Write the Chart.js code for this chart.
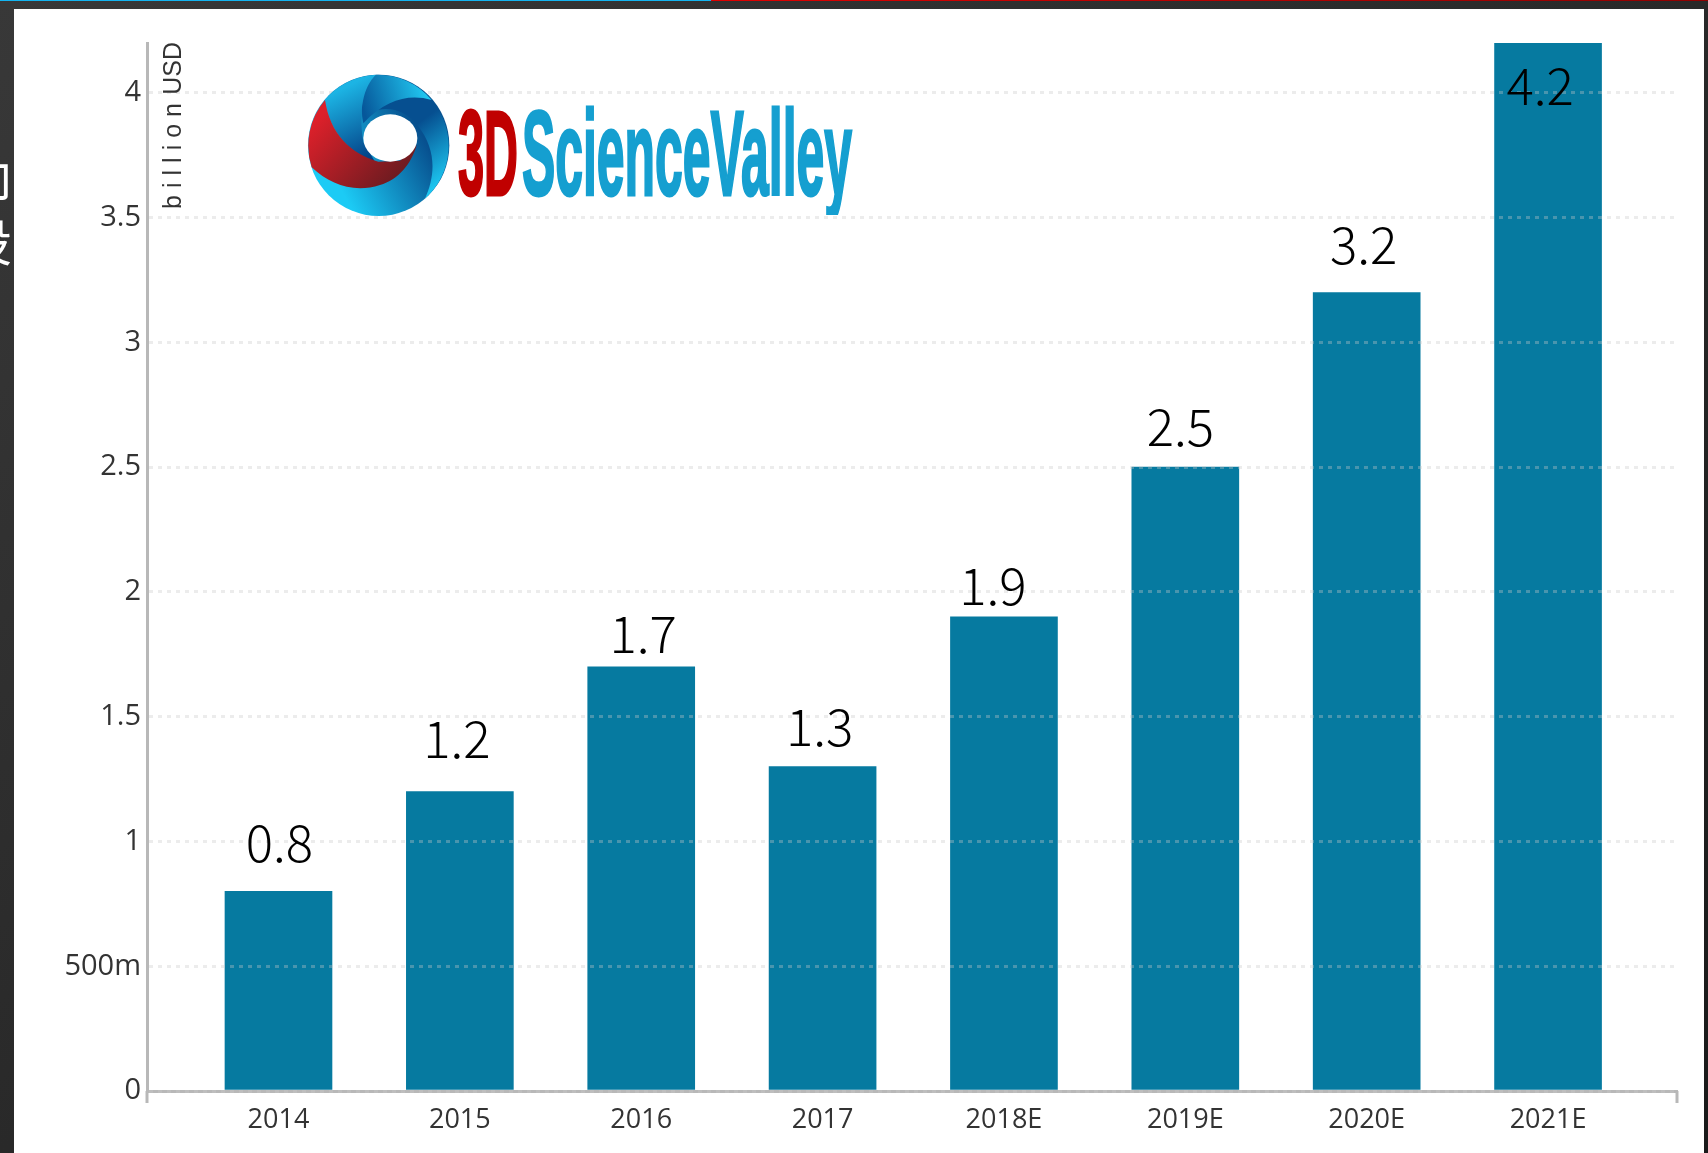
<!DOCTYPE html>
<html>
<head>
<meta charset="utf-8">
<title>3D printing market</title>
<script src="https://cdn.jsdelivr.net/npm/chart.js@4/dist/chart.umd.min.js"></script>
<style>
    html, body { margin: 0; padding: 0; }
    body {
        width: 1708px;
        height: 1153px;
        position: relative;
        overflow: hidden;
        background: linear-gradient(to bottom right, #383838, #1a1a1a);
    }
    .stripe { position: absolute; top: 0; height: 1px; }
    .side-text {
        position: absolute;
        left: -38px;
        top: 152px;
        color: #fff;
        font: 50px/58px "Noto Sans CJK SC", sans-serif;
    }
    .panel { position: absolute; left: 14px; top: 9px; width: 1690px; height: 1144px; background: #fff; }
    canvas { position: absolute; left: 0; top: 0; }
    .logo { position: absolute; left: 300px; top: 70px; }
    .wordmark { position: absolute; left: 450px; top: 95px; }
</style>
</head>
<body>
<div class="stripe" style="left:0;width:711px;background:#14b4f0"></div>
<div class="stripe" style="left:711px;width:997px;background:linear-gradient(to right,#e00000,#8f0000)"></div>
<div class="side-text">印<br>设</div>
<div class="panel"></div>
<canvas id="marketChart" width="1708" height="1153"></canvas>

<svg class="logo" width="160" height="150" viewBox="0 0 480 450">
    <defs>
        <linearGradient id="discFill" gradientUnits="userSpaceOnUse" x1="140" y1="390" x2="395" y2="250">
            <stop offset="0" stop-color="#1ccbf5"/><stop offset="1" stop-color="#07508f"/>
        </linearGradient>
        <linearGradient id="redFill" gradientUnits="userSpaceOnUse" x1="70" y1="130" x2="290" y2="330">
            <stop offset="0" stop-color="#dc202a"/><stop offset="1" stop-color="#6c1b20"/>
        </linearGradient>
        <linearGradient id="leftFill" gradientUnits="userSpaceOnUse" x1="120" y1="60" x2="220" y2="260">
            <stop offset="0" stop-color="#1cb4e4"/><stop offset="1" stop-color="#033f85"/>
        </linearGradient>
        <linearGradient id="topFill" gradientUnits="userSpaceOnUse" x1="190" y1="120" x2="370" y2="60">
            <stop offset="0" stop-color="#06579a"/><stop offset="1" stop-color="#20c4ee"/>
        </linearGradient>
        <linearGradient id="rightFill" gradientUnits="userSpaceOnUse" x1="340" y1="170" x2="450" y2="320">
            <stop offset="0" stop-color="#064f90"/><stop offset="1" stop-color="#1cc6f0"/>
        </linearGradient>
    </defs>
    <circle cx="236" cy="226" r="212" fill="url(#discFill)"/>
    <path d="M395 90 A212 212 0 0 1 375 386 C405 320 412 240 352 165 C320 125 270 105 215 125 C270 80 340 70 395 90 Z" fill="url(#rightFill)"/>
    <path d="M228 14 A212 212 0 0 1 395 90 C330 72 260 85 190 160 C178 100 190 50 228 14 Z" fill="url(#topFill)"/>
    <path d="M75 90 A212 212 0 0 1 228 14 C190 50 175 120 190 215 L225 275 C150 250 90 190 75 90 Z" fill="url(#leftFill)"/>
    <path d="M75 90 A212 212 0 0 0 35 292 C90 345 165 370 240 345 C295 330 335 280 350 225 L300 272 L235 275 C150 250 90 190 75 90 Z" fill="url(#redFill)"/>
    <ellipse cx="271" cy="204" rx="81" ry="71" fill="#fff"/>
</svg>

<svg class="wordmark" width="410" height="120" viewBox="0 0 410 120" font-family="'Liberation Sans', sans-serif" font-weight="700" font-size="120">
    <text x="8" y="100" textLength="60" lengthAdjust="spacingAndGlyphs" fill="#c00000" stroke="#c00000" stroke-width="3">3D</text>
    <text x="72" y="100" textLength="330" lengthAdjust="spacingAndGlyphs" fill="#159fd0" stroke="#159fd0" stroke-width="3">ScienceValley</text>
</svg>

<script>
// market size by year, in billion USD
const categories = ['2014', '2015', '2016', '2017', '2018E', '2019E', '2020E', '2021E'];
const marketSize = [0.8, 1.2, 1.7, 1.3, 1.9, 2.5, 3.2, 4.2];
const yTickValues = [0, 0.5, 1, 1.5, 2, 2.5, 3, 3.5, 4];
const yTickLabels = ['0', '500m', '1', '1.5', '2', '2.5', '3', '3.5', '4'];

const AXIS_COLOR = '#b8b8b8';

// Labels sit by hand around their bars, so each one gets its own nudge
const labelNudge = [[1, -49], [-3, -53], [2, -33], [-3, -40], [-11, -31], [-5, -41], [-3, -48], [-8, 43]];

const barLabels = {
    id: 'barLabels',
    afterDraw(chart) {
        const { ctx } = chart;
        ctx.save();
        ctx.font = '300 51px "Noto Sans CJK SC", sans-serif';
        ctx.fillStyle = '#000';
        ctx.textAlign = 'center';
        ctx.textBaseline = 'middle';
        chart.getDatasetMeta(0).data.forEach((bar, i) => {
            ctx.fillText(marketSize[i].toString(), bar.x + labelNudge[i][0], bar.y + labelNudge[i][1]);
        });
        ctx.restore();
    },
};

// Short drops at both ends of the x axis and the unit next to the y axis
const axisExtras = {
    id: 'axisExtras',
    afterDraw(chart) {
        const { ctx, chartArea } = chart;
        ctx.save();
        ctx.strokeStyle = AXIS_COLOR;
        ctx.lineWidth = 3;
        [chartArea.left, chartArea.right].forEach(x => {
            ctx.beginPath();
            ctx.moveTo(x, chartArea.bottom);
            ctx.lineTo(x, chartArea.bottom + 12);
            ctx.stroke();
        });

        ctx.translate(chartArea.left + 34, chartArea.top - 1);
        ctx.rotate(-Math.PI / 2);
        ctx.fillStyle = '#333';
        ctx.font = '25px "Liberation Sans", sans-serif';
        ctx.textAlign = 'right';
        ctx.textBaseline = 'alphabetic';
        ctx.fillText('USD', 0, 0);
        ctx.letterSpacing = '7px';
        ctx.fillText('billion', -54, 0);
        ctx.restore();
    },
};

new Chart(document.getElementById('marketChart'), {
    type: 'bar',
    data: {
        datasets: [{
            data: marketSize.map((y, i) => ({ x: i, y })),
            backgroundColor: '#067aa0',
            barThickness: 107,
        }],
    },
    plugins: [barLabels, axisExtras],
    options: {
        responsive: false,
        animation: false,
        layout: { padding: { top: 43, right: 31, bottom: 0, left: 0 } },
        plugins: {
            legend: { display: false },
            tooltip: { enabled: false },
        },
        scales: {
            x: {
                type: 'linear',
                offset: false,
                min: -0.725,
                max: 7.711,
                afterBuildTicks(axis) {
                    axis.ticks = categories.map((_, i) => ({ value: i }));
                },
                afterFit(axis) {
                    axis.height = 62;
                },
                grid: { display: false, offset: false },
                border: { color: AXIS_COLOR, width: 3, z: 1 },
                ticks: {
                    autoSkip: false,
                    maxRotation: 0,
                    padding: 5,
                    color: '#333',
                    font: { family: 'Open Sans', size: 27 },
                    callback: (value) => categories[value],
                },
            },
            y: {
                min: 0,
                max: 4.2,
                afterBuildTicks(axis) {
                    axis.ticks = yTickValues.map(value => ({ value }));
                },
                afterFit(axis) {
                    axis.width = 147;
                },
                grid: {
                    z: 1,
                    color: 'rgba(200, 200, 200, 0.35)',
                    lineWidth: 3,
                    tickLength: 0,
                },
                border: { color: AXIS_COLOR, width: 3, dash: [4, 5], z: 1 },
                ticks: {
                    padding: 6,
                    color: '#333',
                    font: { family: 'Open Sans', size: 29 },
                    callback: (value, index) => yTickLabels[index],
                },
            },
        },
    },
});
</script>
</body>
</html>
